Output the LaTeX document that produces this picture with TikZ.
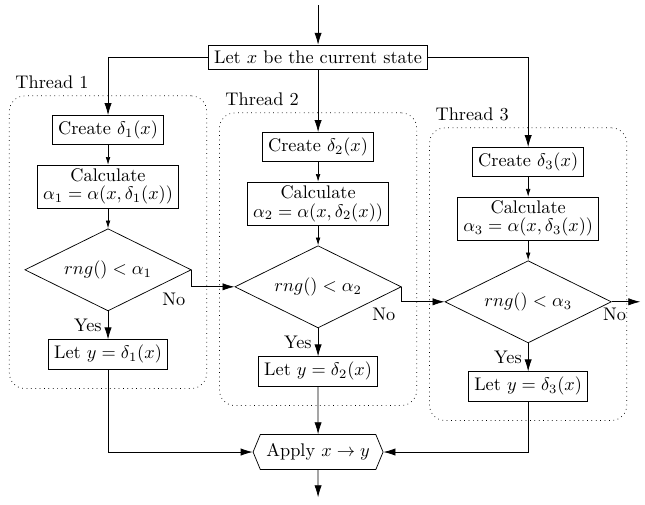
\documentclass[tikz,border=0pt]{standalone}
\usepackage{amsmath,amssymb}
\usetikzlibrary{shapes,arrows,arrows.meta,positioning,fit}

\begin{document}
\begin{tikzpicture}[
    node distance=0.38cm,
    box/.style={rectangle, draw, align=center, inner sep=3pt},
    calcbox/.style={box, inner ysep=2pt},
    decision/.style={diamond, draw, aspect=2, inner sep=1pt, minimum width=3.2cm, minimum height=1.58cm},
    applybox/.style={signal, draw, signal to=west and east, signal pointer angle=135, minimum width=2.4cm, minimum height=0.67cm},
    thread/.style={draw, dotted, rounded corners=0.3cm, inner xsep=0.29cm, inner ysep=0.37cm},
    arrow/.style={-{Latex[length=2.3mm,width=1.4mm]}},
    stepline/.style={-{Latex[length=1.5mm,width=0.9mm]}}
]
\useasboundingbox (0,0) rectangle (12.4,-9.69);
\coordinate (in) at (6.115,-0.1);
\node[box] (state) at (6.115,-1.096) {Let $x$ be the current state};

% thread 1
\node[box] (c1) at (2.077,-2.5) {Create $\delta_1(x)$};
\node[calcbox, below=of c1] (a1) {Calculate\\[-2pt]$\alpha_1 = \alpha(x,\delta_1(x))$};
\node[decision, below=of a1] (d1) {$rng() < \alpha_1$};
\node[box, below=0.54cm of d1] (y1) {Let $y = \delta_1(x)$};
\node[thread, fit=(c1)(a1)(d1)(y1), label={[anchor=south west]north west:Thread 1}] (t1) {};

% thread 2
\node[box] (c2) at (6.115,-2.827) {Create $\delta_2(x)$};
\node[calcbox, below=of c2] (a2) {Calculate\\[-2pt]$\alpha_2 = \alpha(x,\delta_2(x))$};
\node[decision, below=of a2] (d2) {$rng() < \alpha_2$};
\node[box, below=0.54cm of d2] (y2) {Let $y = \delta_2(x)$};
\node[thread, fit=(c2)(a2)(d2)(y2), label={[anchor=south west]north west:Thread 2}] (t2) {};

% thread 3
\node[box] (c3) at (10.154,-3.115) {Create $\delta_3(x)$};
\node[calcbox, below=of c3] (a3) {Calculate\\[-2pt]$\alpha_3 = \alpha(x,\delta_3(x))$};
\node[decision, below=of a3] (d3) {$rng() < \alpha_3$};
\node[box, below=0.54cm of d3] (y3) {Let $y = \delta_3(x)$};
\node[thread, fit=(c3)(a3)(d3)(y3), label={[anchor=south west]north west:Thread 3}] (t3) {};
\coordinate (no3) at (12.31,0 |- d3.east);

\node[applybox] (apply) at (6.115,-8.69) {Apply $x \to y$};
\coordinate (out) at (6.115,-9.56);

\draw[arrow] (in) -- (state);
\draw[arrow] (state) -| (c1);
\draw[arrow] (state) -- (c2);
\draw[arrow] (state) -| (c3);

\draw[stepline] (c1) -- (a1);
\draw[stepline] (a1) -- (d1);
\draw[arrow] (d1) -- node[left] {Yes} (y1);
\draw[stepline] (c2) -- (a2);
\draw[stepline] (a2) -- (d2);
\draw[arrow] (d2) -- node[left] {Yes} (y2);
\draw[stepline] (c3) -- (a3);
\draw[stepline] (a3) -- (d3);
\draw[arrow] (d3) -- node[left] {Yes} (y3);

\draw[arrow] (d1.east) |- node[below left] {No} (d2.west);
\draw[arrow] (d2.east) |- node[below left] {No} (d3.west);
\draw[arrow] (d3.east) -- node[pos=0.1, below] {No} (no3);

\draw[arrow] (y1) |- (apply);
\draw[arrow] (y2) -- (apply);
\draw[arrow] (y3) |- (apply);
\draw[arrow] (apply) -- (out);
\end{tikzpicture}
\end{document}
